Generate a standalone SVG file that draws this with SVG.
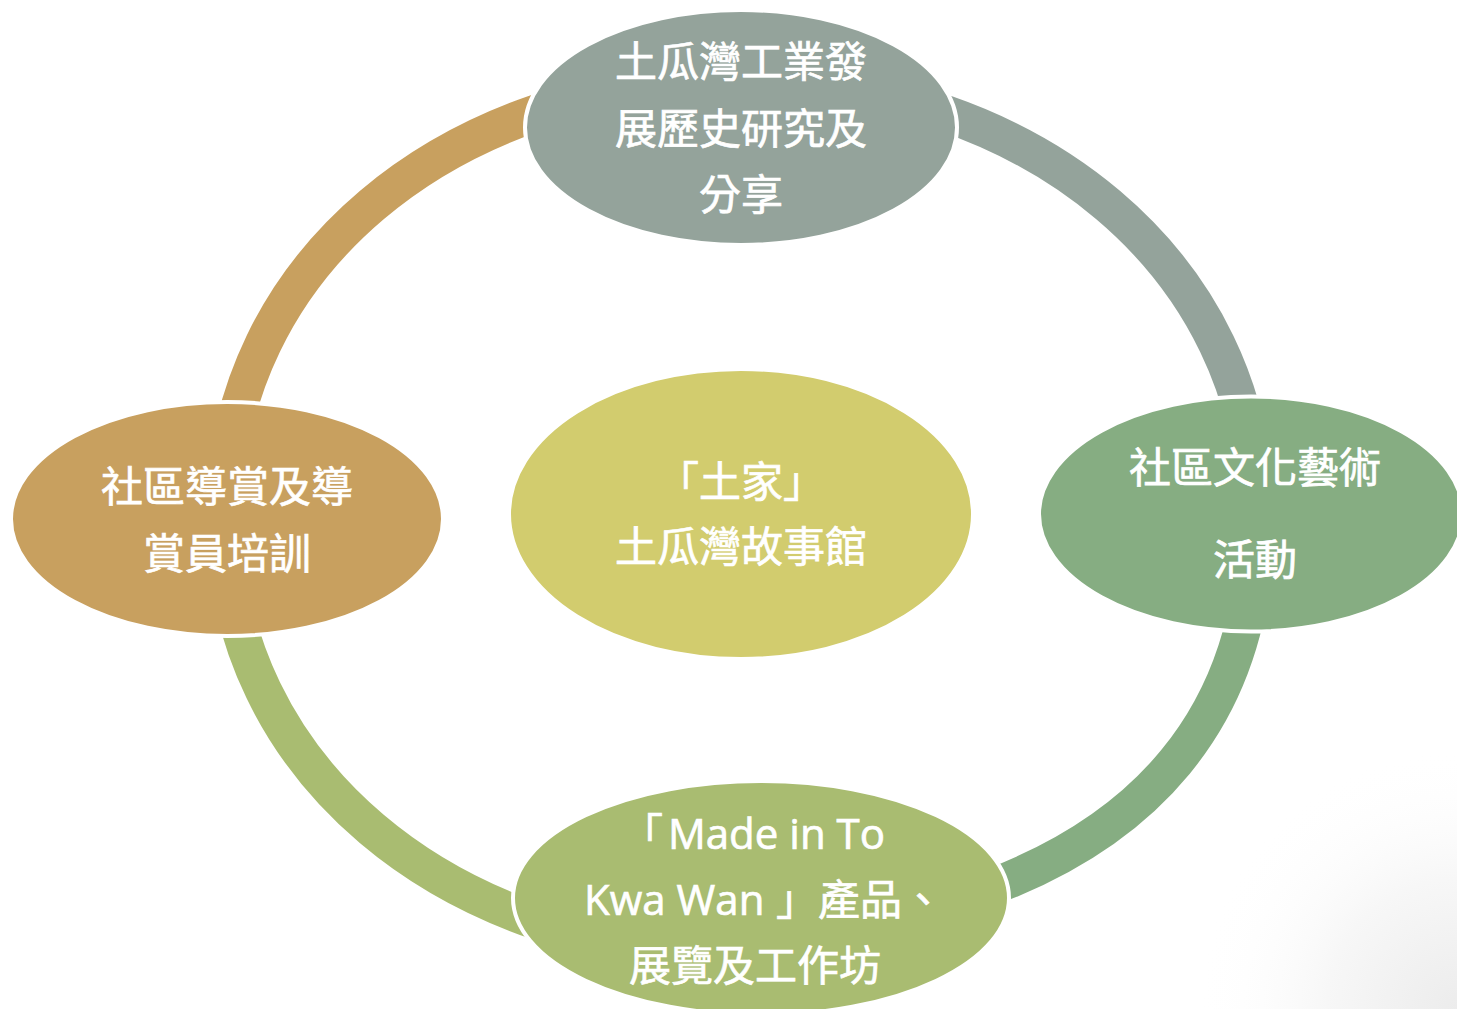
<svg xmlns="http://www.w3.org/2000/svg" width="1457" height="1009" viewBox="0 0 1457 1009">
  <defs>
    <radialGradient id="corner" cx="1457" cy="1009" r="260" gradientUnits="userSpaceOnUse">
      <stop offset="0" stop-color="#ececec"/>
      <stop offset="0.5" stop-color="#f7f7f7"/>
      <stop offset="1" stop-color="#ffffff" stop-opacity="0"/>
    </radialGradient>
  </defs>
  <style>
    .arc { fill: none; stroke-width: 37; stroke-linecap: butt; }
    .node { stroke: #ffffff; stroke-width: 4; }
    .lbl { font-family: "Open Sans", "Noto Sans CJK TC", "Noto Sans CJK SC", sans-serif; font-size: 42px; fill: #ffffff; stroke: #ffffff; stroke-width: 0.7; }
    .mid { text-anchor: middle; }
  </style>
  <rect x="0" y="0" width="1457" height="1009" fill="#ffffff"/>
  <rect x="1150" y="700" width="307" height="309" fill="url(#corner)"/>

  <g id="connectors">
    <path class="arc" stroke="#C8A05F" d="M224,517 C224,268 446,80 740,80"/>
    <path class="arc" stroke="#94A39B" d="M740,80 C1034,80 1256,268 1256,517"/>
    <path class="arc" stroke="#86AD82" d="M1256,517 C1256,720 1140,840 960,898"/>
    <path class="arc" stroke="#A9BC71" d="M740,954 C446,954 224,766 224,517"/>
  </g>

  <g id="node-top">
    <ellipse class="node" cx="741" cy="127.5" rx="216" ry="117.5" fill="#94A39B"/>
    <text class="lbl mid" x="741" y="77">土瓜灣工業發</text>
    <text class="lbl mid" x="741" y="144">展歷史研究及</text>
    <text class="lbl mid" x="741" y="210">分享</text>
  </g>

  <g id="node-left">
    <ellipse class="node" cx="227" cy="519" rx="216" ry="117" fill="#C8A05F"/>
    <text class="lbl mid" x="227" y="502">社區導賞及導</text>
    <text class="lbl mid" x="227" y="569">賞員培訓</text>
  </g>

  <g id="node-right">
    <ellipse class="node" cx="1251" cy="514" rx="212" ry="117.5" fill="#86AD82"/>
    <text class="lbl mid" x="1255" y="483">社區文化藝術</text>
    <text class="lbl mid" x="1255" y="575">活動</text>
  </g>

  <g id="node-bottom">
    <ellipse class="node" cx="761" cy="898" rx="248" ry="117" fill="#A9BC71"/>
    <text class="lbl" x="621" y="849">「<tspan x="668">Made in To</tspan></text>
    <text class="lbl" x="584" y="915">Kwa Wan<tspan x="776">」</tspan><tspan x="818">產品、</tspan></text>
    <text class="lbl mid" x="755" y="981">展覽及工作坊</text>
  </g>

  <g id="node-center">
    <ellipse class="node" cx="741" cy="514" rx="232" ry="145" fill="#D2CC6E"/>
    <text class="lbl mid" x="741" y="497">「土家」</text>
    <text class="lbl mid" x="741" y="562">土瓜灣故事館</text>
  </g>
</svg>
